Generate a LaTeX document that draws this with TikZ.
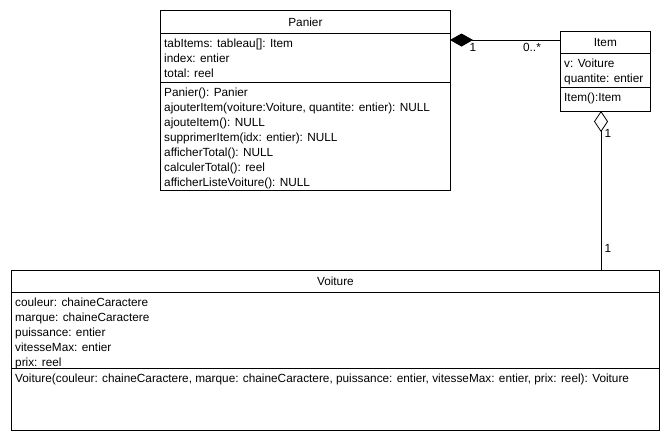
\documentclass[tikz,border=0pt]{standalone}
\usepackage{fontspec}
\setmainfont{Liberation Sans}
\usetikzlibrary{arrows.meta}

\begin{document}
\begin{tikzpicture}[x=1pt, y=-1pt, every node/.style={font=\fontsize{11.8}{15}\selectfont}, box/.style={draw=black, line width=0.8pt, rectangle, anchor=north west, inner sep=0pt}, txt/.style={anchor=north west, align=left, inner sep=0pt}, lbl/.style={inner sep=0pt}]
				\useasboundingbox (0,0) rectangle (670,440);
				
				\node[box, minimum width=290pt, minimum height=23pt] (panierHead) at (160,10){Panier};
				\node[box, minimum width=290pt, minimum height=49pt] (panierAttr) at (160,33){};
				\node[box, minimum width=290pt, minimum height=108pt] (panierMeth) at (160,82){};
				
				\node[box, minimum width=90pt, minimum height=22pt] (itemHead) at (560,31){Item};
				\node[box, minimum width=90pt, minimum height=34pt] (itemAttr) at (560,53){};
				\node[box, minimum width=90pt, minimum height=24pt] (itemMeth) at (560,87){};
				
				\node[box, minimum width=648pt, minimum height=22pt] (voitureHead) at (11,270){Voiture};
				\node[box, minimum width=648pt, minimum height=76pt] (voitureAttr) at (11,292){};
				\node[box, minimum width=648pt, minimum height=62pt] (voitureMeth) at (11,368){};
				
				\node[txt] (panierAttrTxt) at ([shift={(4,6)}]panierAttr.north west){tabItems: tableau[]: Item\\index: entier\\total: reel};
				\node[txt] (panierMethTxt) at ([shift={(4,6)}]panierMeth.north west){Panier(): Panier\\ajouterItem(voiture:Voiture, quantite: entier): NULL\\ajouteItem(): NULL\\supprimerItem(idx: entier): NULL\\afficherTotal(): NULL\\calculerTotal(): reel\\afficherListeVoiture(): NULL};
				\node[txt] (itemAttrTxt) at ([shift={(4,6)}]itemAttr.north west){v: Voiture\\quantite: entier};
				\node[txt] (itemMethTxt) at ([shift={(4,6)}]itemMeth.north west){Item():Item};
				\node[txt] (voitureAttrTxt) at ([shift={(4,6)}]voitureAttr.north west){couleur: chaineCaractere\\marque: chaineCaractere\\puissance: entier\\vitesseMax: entier\\prix: reel};
				\node[txt] (voitureMethTxt) at ([shift={(4,6)}]voitureMeth.north west){Voiture(couleur: chaineCaractere, marque: chaineCaractere, puissance: entier, vitesseMax: entier, prix: reel): Voiture};
				
				\coordinate (compPanier) at (450,40);
				\coordinate (compItem) at (560,40);
				\coordinate (aggItem) at (601,111);
				\coordinate (aggVoiture) at (601,270);
				
				\path (compPanier) edge[draw=black, line width=0.8pt, {Diamond[length=23pt, width=13pt]}-] (compItem);
				\path (aggItem) edge[draw=black, line width=0.8pt, {Diamond[open, length=21pt, width=14pt]}-] (aggVoiture);
				
				\node[lbl] (compOne) at (473,47){1};
				\node[lbl] (compMany) at (532,47){0..*};
				\node[lbl] (aggOne) at (608,133){1};
				\node[lbl] (aggOtherOne) at (608,248){1};
				\end{tikzpicture}
\end{document}
